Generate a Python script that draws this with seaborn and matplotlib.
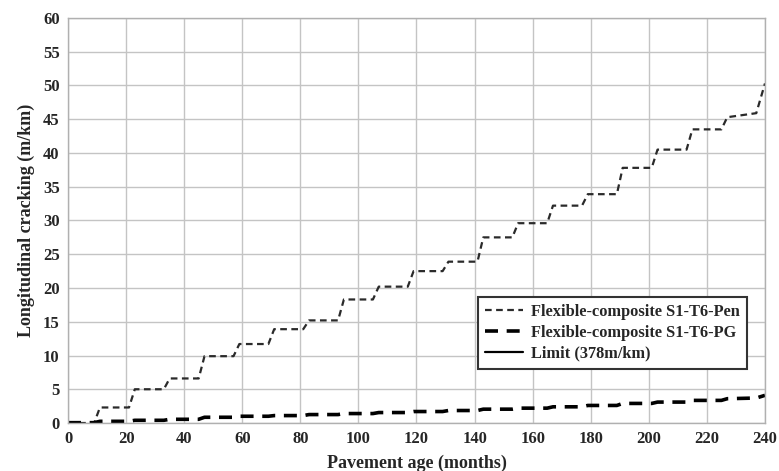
import matplotlib
matplotlib.use("Agg")
import matplotlib.pyplot as plt
import seaborn as sns
import pandas as pd
import numpy as np

# Breakpoints (months) and values (m/km) for each series
pen_months = [0, 9, 11, 21, 23, 33, 35, 45, 47, 57, 59, 69, 71, 81, 83, 93, 95, 105, 107,
              117, 119, 129, 131, 141, 143, 153, 155, 165, 167, 177, 179, 189, 191, 201, 203,
              213, 215, 225, 227, 237, 240]
pen_values = [0.0, 0.0, 2.3, 2.3, 5.0, 5.0, 6.6, 6.6, 9.9, 9.9, 11.7, 11.7, 13.9, 13.9, 15.2,
              15.2, 18.3, 18.3, 20.2, 20.2, 22.5, 22.5, 23.9, 23.9, 27.5, 27.5, 29.6, 29.6,
              32.2, 32.2, 33.9, 33.9, 37.8, 37.8, 40.5, 40.5, 43.5, 43.5, 45.3, 45.9, 50.3]

pg_months = pen_months
pg_values = [0.05, 0.05, 0.25, 0.25, 0.4, 0.4, 0.55, 0.55, 0.85, 0.85, 1.0, 1.0, 1.1, 1.1,
             1.25, 1.25, 1.4, 1.4, 1.55, 1.55, 1.7, 1.7, 1.85, 1.85, 2.05, 2.05, 2.2, 2.2,
             2.4, 2.4, 2.6, 2.6, 2.9, 2.9, 3.1, 3.1, 3.35, 3.35, 3.6, 3.7, 4.1]

limit_months = [0, 240]
limit_values = [378, 378]

x_ticks = list(range(0, 241, 20))
y_ticks = list(range(0, 61, 5))

labels = ["Flexible-composite S1-T6-Pen", "Flexible-composite S1-T6-PG", "Limit (378m/km)"]

sns.set_style("white")
plt.rcParams['font.family'] = ['Liberation Serif', 'DejaVu Serif']
plt.rcParams['font.weight'] = 'bold'

fig = plt.figure(figsize=(7.79, 4.71), dpi=100)
ax = fig.add_axes([0.0873, 0.1019, 0.8947, 0.8599])

df_pen = pd.DataFrame({"month": pen_months, "value": pen_values})
df_pg = pd.DataFrame({"month": pg_months, "value": pg_values})
df_lim = pd.DataFrame({"month": limit_months, "value": limit_values})

sns.lineplot(data=df_pen, x="month", y="value", ax=ax, color="#2a2a2a", linewidth=1.6,
             dashes=False, label=labels[0])
sns.lineplot(data=df_pg, x="month", y="value", ax=ax, color="black", linewidth=2.6,
             dashes=False, label=labels[1])
sns.lineplot(data=df_lim, x="month", y="value", ax=ax, color="black", linewidth=1.6,
             label=labels[2])
lines = ax.get_lines()
lines[0].set_dashes([3.0, 2.0])
lines[1].set_dashes([3.6, 2.4])

ax.set_xlim(0, 240)
ax.set_ylim(0, 60)
ax.set_xticks(x_ticks)
ax.set_yticks(y_ticks)
ax.tick_params(length=0, labelsize=12, pad=6)
for lab in ax.get_xticklabels() + ax.get_yticklabels():
    lab.set_fontweight('bold')
ax.grid(True, color="#c4c4c4", linewidth=1.0)
for s in ax.spines.values():
    s.set_color("#b0b0b0")
    s.set_linewidth(1.0)

ax.set_xlabel("Pavement age (months)", fontsize=13, fontweight='bold', labelpad=5)
ax.set_ylabel("Longitudinal cracking (m/km)", fontsize=13, fontweight='bold', labelpad=6)

leg = ax.legend(loc="lower left", bbox_to_anchor=(0.588, 0.133), borderaxespad=0,
                fontsize=11.8, frameon=True, fancybox=False, edgecolor="#333333",
                framealpha=1, handlelength=2.3, borderpad=0.45, labelspacing=0.3,
                handletextpad=0.5)
leg.get_frame().set_linewidth(1.5)
for t in leg.get_texts():
    t.set_fontweight('bold')

fig.savefig("out.png", dpi=100)
